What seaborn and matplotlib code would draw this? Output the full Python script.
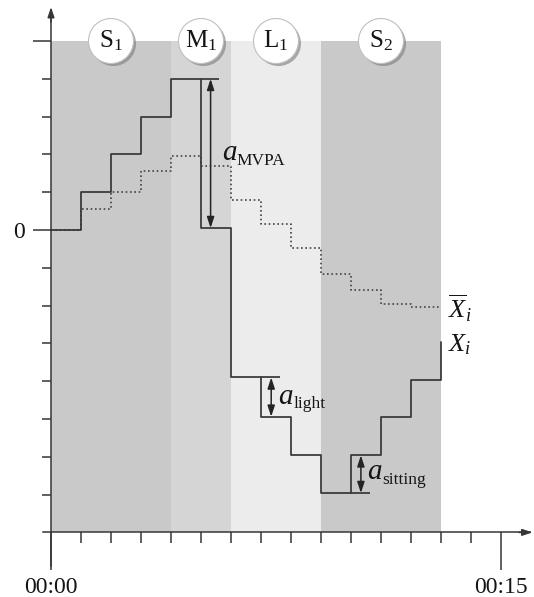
import matplotlib
matplotlib.use("Agg")
import matplotlib.pyplot as plt
import matplotlib.patheffects as pe
import seaborn as sns
import pandas as pd

# ---------------- data ----------------
minutes = list(range(14))
x_levels = [0, 1, 2, 3, 4, 0.05, -3.9, -4.94, -5.96, -6.96, -5.96, -4.96, -3.97, -2.95]
xbar_levels = [0, 0.56, 1.01, 1.56, 1.96, 1.69, 0.79, 0.15, -0.47, -1.16, -1.6, -1.97, -2.04, -2.04]

phase_labels = [r"$\mathrm{S}_{1}$", r"$\mathrm{M}_{1}$", r"$\mathrm{L}_{1}$", r"$\mathrm{S}_{2}$"]
phase_start = [0, 4, 6, 9]
phase_end = [4, 6, 9, 13]
phase_label_x = [2, 5, 7.5, 11]
phase_colors = ["#c9c9c9", "#d5d5d5", "#ececec", "#c9c9c9"]
band_low, band_high = -8, 5

ann_sub = ["MVPA", "light", "sitting"]
ann_x = [5.32, 7.34, 10.33]
ann_hi = [4, -3.9, -5.96]
ann_lo = [0.05, -4.94, -6.96]
ext_level = [4, -3.9, -6.96]
ext_start = [5, 7, 10]
ext_end = [5.61, 7.62, 10.64]
ann_text_x = [5.69, 7.58, 10.54]
ann_text_y = [1.85, -4.59, -6.6]

series_labels = [r"$\overline{X}_{i}$", r"$X_{i}$"]
series_label_x = [13.25, 13.25]
series_label_y = [-2.33, -3.2]

xtick_major = [0, 15]
xtick_labels = ["00:00", "00:15"]
xtick_minor = list(range(1, 15))
ytick_major = [0, 5]
ytick_labels = ["0", ""]
ytick_minor = [-7, -6, -5, -4, -3, -2, -1, 1, 2, 3, 4]

# ---------------- style ----------------
sns.set_style("white")
plt.rcParams["font.family"] = ["Liberation Serif", "DejaVu Serif"]
plt.rcParams["mathtext.fontset"] = "custom"
plt.rcParams["mathtext.rm"] = "Liberation Serif"
plt.rcParams["mathtext.it"] = "Liberation Serif:italic"
plt.rcParams["mathtext.bf"] = "Liberation Serif:bold"

LINE = "#363636"
INK = "#151515"

fig = plt.figure(figsize=(5.34, 5.97), dpi=100)
ax = fig.add_axes([0, 0, 1, 1])
ax.set_facecolor("white")
ax.set_xlim(-1.7, 16.1)
ax.set_ylim(-9.709, 6.085)

# background phase bands
for s, e, c in zip(phase_start, phase_end, phase_colors):
    ax.fill_between([s, e], band_low, band_high, color=c, lw=0, zorder=0)

df = pd.DataFrame({"minute": minutes, "X": x_levels, "Xbar": xbar_levels})

sns.lineplot(data=df, x="minute", y="Xbar", drawstyle="steps-post", color="#444444",
             lw=1.2, linestyle=(0, (1, 1.6)), ax=ax, zorder=3)
sns.lineplot(data=df, x="minute", y="X", drawstyle="steps-post", color=LINE,
             lw=1.25, ax=ax, zorder=4)

# extension lines for the annotations
for s, e, lv in zip(ext_start, ext_end, ext_level):
    ax.plot([s, e], [lv, lv], color=LINE, lw=1.25, zorder=4, solid_capstyle="butt")

# double-headed arrows
for xa, hi, lo in zip(ann_x, ann_hi, ann_lo):
    ax.annotate("", xy=(xa, hi), xytext=(xa, lo),
                arrowprops=dict(arrowstyle="<|-|>,head_length=0.55,head_width=0.18",
                                color="#242424", lw=1.1, shrinkA=0, shrinkB=0,
                                mutation_scale=12), zorder=5)

# annotation texts a_sub
for sub, tx, ty in zip(ann_sub, ann_text_x, ann_text_y):
    t = ax.text(tx, ty, "a", fontsize=21, style="italic", color=INK,
                ha="left", va="baseline", zorder=6)
    ax.annotate(sub, xy=(1, ty), xycoords=(t, "data"), xytext=(0.3, -3.5),
                textcoords="offset points", fontsize=12.5, color=INK,
                ha="left", va="baseline", zorder=6)

# series labels
for lab, lx, ly in zip(series_labels, series_label_x, series_label_y):
    ax.text(lx, ly, lab, fontsize=19, color=INK, ha="left", va="baseline")

# phase label circles
circ = pd.DataFrame({"x": phase_label_x, "y": [band_high] * len(phase_label_x)})
sns.scatterplot(data=circ, x="x", y="y", s=1050, color="white", edgecolor="#c0c0c0",
                linewidth=0.8, ax=ax, zorder=7, legend=False,
                path_effects=[pe.SimplePatchShadow(offset=(1.8, -1.8), shadow_rgbFace="#7a7a7a",
                                                   alpha=0.6),
                              pe.Normal()])
for lab, lx in zip(phase_labels, phase_label_x):
    ax.text(lx, band_high - 0.17, lab, fontsize=18, color=INK, ha="center",
            va="baseline", zorder=8)

# axes
for side in ["top", "right"]:
    ax.spines[side].set_visible(False)
ax.spines["left"].set_position(("data", 0))
ax.spines["bottom"].set_position(("data", band_low))
ax.spines["left"].set_bounds(-8.89, 5.8)
ax.spines["bottom"].set_bounds(-0.28, 15.95)
for side in ["left", "bottom"]:
    ax.spines[side].set_color(LINE)
    ax.spines[side].set_linewidth(1.1)
    ax.spines[side].set_zorder(5)

ax.annotate("", xy=(16.05, band_low), xytext=(15.6, band_low),
            arrowprops=dict(arrowstyle="-|>,head_length=0.6,head_width=0.2", color=LINE,
                            lw=1.1, shrinkA=0, shrinkB=0, mutation_scale=10))
ax.annotate("", xy=(0, 5.9), xytext=(0, 5.5),
            arrowprops=dict(arrowstyle="-|>,head_length=0.6,head_width=0.2", color=LINE,
                            lw=1.1, shrinkA=0, shrinkB=0, mutation_scale=10))

ax.set_xticks(xtick_major)
ax.set_xticklabels(xtick_labels)
ax.set_xticks(xtick_minor, minor=True)
ax.set_yticks(ytick_major)
ax.set_yticklabels(ytick_labels)
ax.set_yticks(ytick_minor, minor=True)
ax.tick_params(axis="x", which="major", direction="out", length=27, width=1.1,
               color=LINE, pad=5, labelsize=17, labelcolor=INK, bottom=True)
ax.tick_params(axis="x", which="minor", direction="out", length=8, width=1.1,
               color=LINE, bottom=True)
ax.tick_params(axis="y", which="major", direction="out", length=12.7, width=1.1,
               color=LINE, pad=6, labelsize=17, labelcolor=INK, left=True)
ax.tick_params(axis="y", which="minor", direction="out", length=6.7, width=1.1,
               color=LINE, left=True)
ax.set_xlabel("")
ax.set_ylabel("")
ax.grid(False)

fig.savefig("out.png", dpi=100)
